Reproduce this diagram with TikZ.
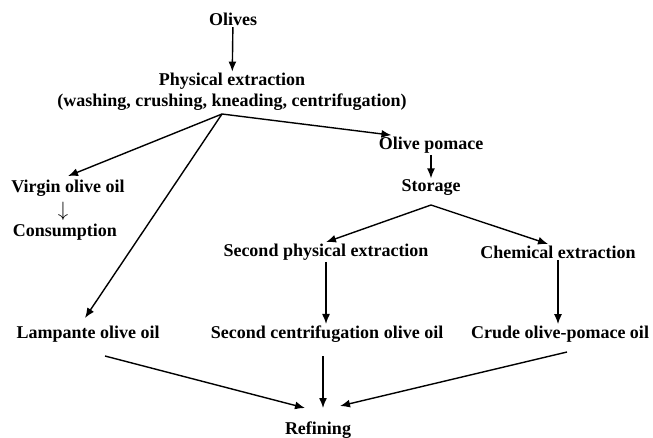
\documentclass[tikz,border=0pt]{standalone}
\usepackage{fontspec}
\setmainfont{Liberation Serif}
\usetikzlibrary{arrows.meta}

\begin{document}
\begin{tikzpicture}[x=1pt,y=-1pt,line width=1.4pt,>={Latex[length=10pt,width=8pt]},
        every node/.style={font=\fontsize{18}{21}\selectfont\bfseries,inner sep=1pt}]
            \useasboundingbox (0,0) rectangle (653,437);

            \node (olives) at (233,19) {Olives};
            \node[align=center] (phys) at (232,92) {Physical extraction\\(washing, crushing, kneading, centrifugation)};
            \coordinate (split) at (222,114);

            \node (virgin) at (68,188) {Virgin olive oil};
            \node[font=\fontsize{20}{22}\selectfont,inner sep=0pt] (down) at (63,211) {$\downarrow$};
            \node (cons) at (65,232) {Consumption};

            \node (pomace) at (431,145) {Olive pomace};
            \node (storage) at (431,188) {Storage};
            \coordinate (fork) at (431,205);

            \node (secphys) at (326,252) {Second physical extraction};
            \node (chem) at (558,252) {Chemical extraction};

            \node (lamp) at (88,334) {Lampante olive oil};
            \node (centr) at (327,334) {Second centrifugation olive oil};
            \node (crude) at (560,334) {Crude olive-pomace oil};

            \node (refine) at (318,430) {Refining};

            \path [->] (olives) edge (phys);
            \path [->] (split) edge ([yshift=2pt]virgin.north);
            \path [->] (split) edge ([shift={(-3,-16)}]lamp.center);
            \path [->] (split) edge (pomace.166);
            \path [->] (pomace) edge (storage);
            \path [->] (fork) edge (secphys.north);
            \path [->] (fork) edge ([xshift=-10pt]chem.north);
            \path [->] (secphys.south) edge (secphys.south |- centr.north);
            \path [->] (chem.south) edge (chem.south |- crude.north);
            \path [->] ([shift={(17,22)}]lamp.center) edge ([shift={(-13,-22)}]refine.center);
            \path [->] ([shift={(-4,22)}]centr.center) edge ([shift={(5,-22)}]refine.center);
            \path [->] ([shift={(7,18)}]crude.center) edge ([shift={(22,-24)}]refine.center);
        \end{tikzpicture}
\end{document}
